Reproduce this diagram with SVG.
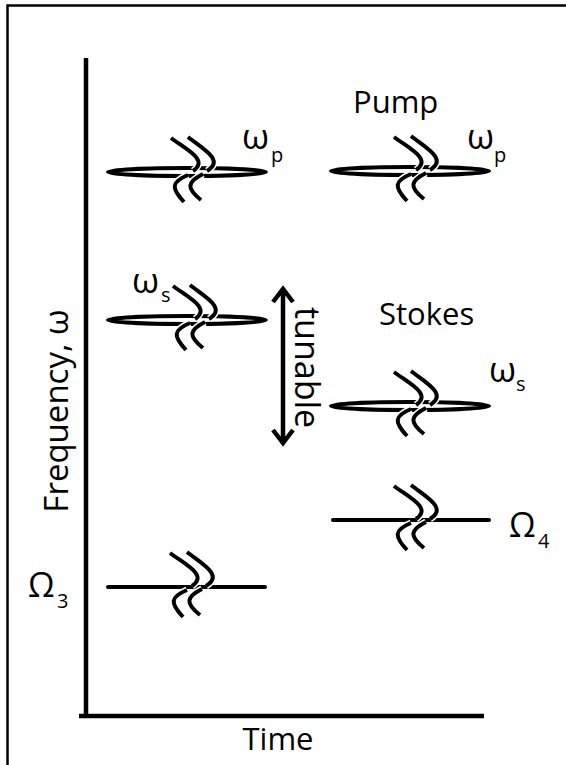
<svg xmlns="http://www.w3.org/2000/svg" width="566" height="765" viewBox="0 0 566 765">
<style>
text{font-family:"Open Sans","Liberation Sans",sans-serif;fill:#000}
.lbl{font-size:31px}
.big{font-size:33px}
.sym{font-size:35px}
.cap{font-size:34px}
.sub{font-size:20px}
.axis{stroke:#000;stroke-width:4.5;fill:none}
.ring{fill:none;stroke:#000;stroke-width:4}
.level{stroke:#000;stroke-width:4;stroke-linecap:round}
.brk{fill:none;stroke:#000;stroke-width:4}
.halo{fill:none;stroke:#fff;stroke-width:7}
</style>
<defs>
<g id="break">
<path class="halo" d="M-20,-34 C-4,-22 18,-12 2,-1 M-3,-35 C12,-23 34,-12 16,-1 M-3,3 C-20,10 -20,16 -7,30 M12,2 C-4,10 -5,16 10,28"/>
<path class="brk" d="M-20,-34 C-4,-22 18,-12 2,-1 M-3,-35 C12,-23 34,-12 16,-1 M-3,3 C-20,10 -20,16 -7,30 M12,2 C-4,10 -5,16 10,28"/>
</g>
</defs>
<path d="M7.5,770 V5.5 H570" fill="none" stroke="#000" stroke-width="2.5"/>
<g id="axes">
<path class="axis" d="M86,58 L86,716 M79,716 L484,716"/>
<text class="lbl" x="278" y="750" text-anchor="middle">Time</text>
<text class="big" transform="translate(68,411) rotate(-90)" text-anchor="middle">Frequency, ω</text>
</g>
<g id="pump-left">
<ellipse class="ring" cx="187" cy="172" rx="79" ry="4"/>
<use href="#break" x="191" y="172"/>
<text class="sym" x="242" y="149">ω</text><text class="sub" x="271" y="162">p</text>
</g>
<g id="pump-right">
<text class="lbl" x="353" y="113">Pump</text>
<ellipse class="ring" cx="410" cy="171" rx="79" ry="4"/>
<use href="#break" x="414" y="171"/>
<text class="sym" x="467" y="149">ω</text><text class="sub" x="494" y="162">p</text>
</g>
<g id="stokes-left">
<ellipse class="ring" cx="187" cy="320" rx="79" ry="4"/>
<use href="#break" x="193" y="320"/>
<text class="sym" x="132" y="293">ω</text><text class="sub" x="161" y="302">s</text>
</g>
<g id="stokes-right">
<text class="lbl" x="379" y="325">Stokes</text>
<ellipse class="ring" cx="410" cy="406" rx="79" ry="4"/>
<use href="#break" x="414" y="406"/>
<text class="sym" x="489" y="382">ω</text><text class="sub" x="516" y="391">s</text>
</g>
<g id="omega3">
<line class="level" x1="108" y1="587" x2="265" y2="587"/>
<use href="#break" x="190" y="587"/>
<text class="cap" x="28" y="597">Ω</text><text class="sub" x="57" y="608">3</text>
</g>
<g id="omega4">
<line class="level" x1="333" y1="520" x2="489" y2="520"/>
<use href="#break" x="414" y="520"/>
<text class="cap" x="509" y="537">Ω</text><text class="sub" x="538" y="548">4</text>
</g>
<g id="connectors">
<path class="axis" d="M283,290 L283,442 M273,302 L283,289 L293,302 M273,430 L283,443 L293,430" stroke-width="4"/>
<text class="big" transform="translate(295,307) rotate(90)" style="font-size:34px">tunable</text>
</g>
</svg>
